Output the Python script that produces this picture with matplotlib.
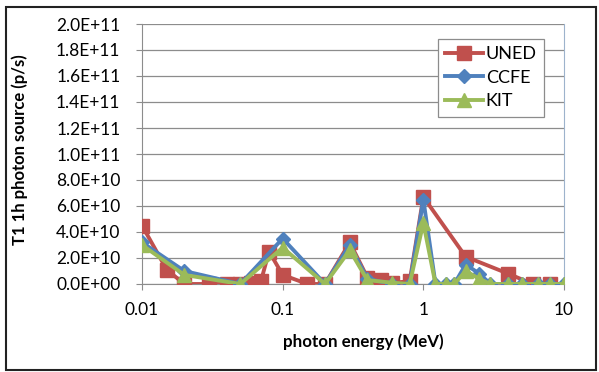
import numpy as np
import matplotlib.pyplot as plt
from matplotlib.ticker import FixedLocator, FuncFormatter, NullLocator
from matplotlib.patches import Rectangle

plt.rcParams['font.family'] = ['Lato', 'DejaVu Sans']

# UNED group structure (finer at low energy)
uned_e = [0.01, 0.015, 0.02, 0.03, 0.04, 0.05, 0.06, 0.07, 0.08, 0.1, 0.15, 0.2,
          0.3, 0.4, 0.5, 0.6, 0.8, 1.0, 2.0, 4.0, 6.0, 8.0]
uned_s = [4.5e10, 1.1e10, 0.0, 0.0, 0.0, 0.0, 0.1e10, 0.2e10, 2.5e10, 0.7e10, 0.0, 0.0,
          3.2e10, 0.5e10, 0.3e10, 0.1e10, 0.2e10, 6.7e10, 2.1e10, 0.8e10, 0.0, 0.0]

# CCFE / KIT use the 24-group structure
grp_e = [0.01, 0.02, 0.05, 0.1, 0.2, 0.3, 0.4, 0.6, 0.8, 1.0, 1.22, 1.44, 1.66,
         2.0, 2.5, 3.0, 4.0, 5.0, 6.5, 8.0, 10.0]
ccfe_s = [3.2e10, 1.0e10, 0.0, 3.5e10, 0.0, 3.0e10, 0.4e10, 0.0, 0.0, 6.5e10, 0.0, 0.0, 0.0,
          1.5e10, 0.8e10, 0.0, 0.0, 0.0, 0.0, 0.0, 0.0]
kit_s = [3.0e10, 0.7e10, 0.0, 2.8e10, 0.0, 2.6e10, 0.3e10, 0.1e10, 0.0, 4.7e10, 0.0, 0.0, 0.0,
         1.0e10, 0.4e10, 0.0, 0.0, 0.0, 0.0, 0.0, 0.0]

W, H = 599, 372
fig = plt.figure(figsize=(W / 100, H / 100), dpi=100)
ax = fig.add_axes([142 / W, 1 - 284 / H, (564 - 142) / W, (284 - 24) / H])

ax.plot(uned_e, uned_s, color='#C0504D', lw=2.8, marker='s', ms=9.5, label='UNED', zorder=3)
ax.plot(grp_e, ccfe_s, color='#4F81BD', lw=2.8, marker='D', ms=7, label='CCFE', zorder=4)
ax.plot(grp_e, kit_s, color='#9BBB59', lw=2.8, marker='^', ms=9.5, label='KIT', zorder=5)

ax.set_xscale('log')
ax.set_xlim(0.01, 10)
ax.set_ylim(0, 2.0e11)
ax.xaxis.set_major_locator(FixedLocator([0.01, 0.1, 1, 10]))
ax.xaxis.set_minor_locator(NullLocator())
ax.xaxis.set_major_formatter(FuncFormatter(lambda v, p: f'{v:g}'))
ax.set_yticks(np.arange(0, 2.01e11, 2e10))
ax.yaxis.set_major_formatter(FuncFormatter(lambda v, p: f'{v:.1E}'))

ax.grid(axis='y', color='#8C8C8C', lw=0.9)
ax.set_axisbelow(True)
ax.spines['top'].set_visible(False)
ax.spines['left'].set_color('#8C8C8C')
ax.spines['bottom'].set_color('#8C8C8C')
ax.spines['right'].set_color('#9DB3CC')
ax.tick_params(axis='y', length=4.5, color='#8C8C8C', labelsize=12.5, pad=11)
ax.tick_params(axis='x', length=4, color='#8C8C8C', labelsize=12.5, pad=9)

# axis titles
fig.text(363 / W, 1 - 342 / H, 'photon energy (MeV)', fontsize=12.2, fontweight='bold',
         ha='center', va='center')
fig.text(20 / W, 1 - 150 / H, 'T1 1h photon source (p/s)', fontsize=12, fontweight='bold',
         ha='center', va='center', rotation=90)

leg = ax.legend(loc='upper left', bbox_to_anchor=(438 / W, 1 - 39 / H),
                bbox_transform=fig.transFigure, borderaxespad=0, fontsize=13,
                frameon=True, fancybox=False, edgecolor='#8C8C8C', framealpha=1,
                handlelength=2.1, borderpad=0.4, labelspacing=0.42, handletextpad=0.15)
leg.get_frame().set_linewidth(0.9)

# outer frame around the figure
fig.patches.append(Rectangle((6 / W, 2 / H), 590 / W, 363 / H, transform=fig.transFigure,
                             fill=False, edgecolor='#222222', lw=1.5))

fig.savefig('out.png', dpi=100)
